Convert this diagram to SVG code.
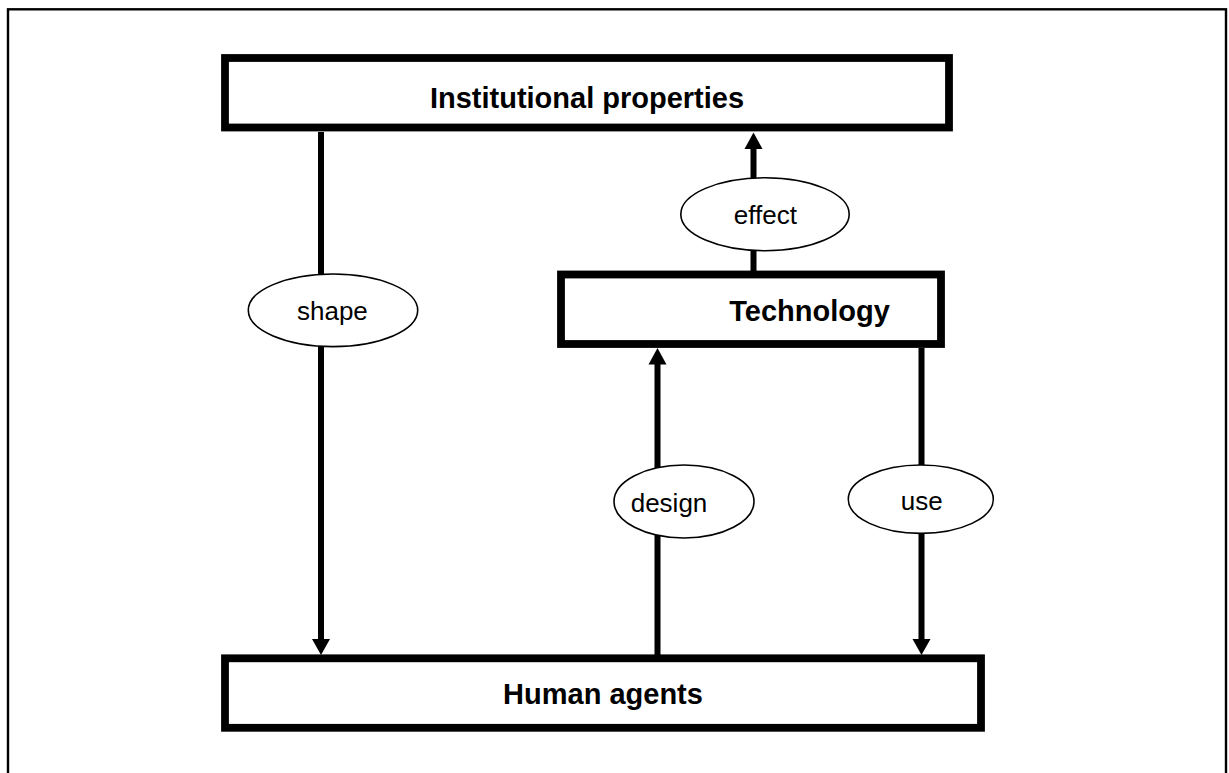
<svg xmlns="http://www.w3.org/2000/svg" width="1229" height="773" viewBox="0 0 1229 773">
<style>
.box{fill:#fff;stroke:#000;stroke-width:7.8}
.lbl{fill:#fff;stroke:#000;stroke-width:1.6}
.bt{font-family:"Liberation Sans",Arial,sans-serif;font-weight:bold;font-size:29px;text-anchor:middle;fill:#000}
.lt{font-family:"Liberation Sans",Arial,sans-serif;font-size:26px;text-anchor:middle;fill:#000}
.ln{stroke:#000;stroke-width:6;fill:none}
.ah{fill:#000}
</style>
<rect x="0" y="0" width="1229" height="773" fill="#fff"/>
<rect id="frame" x="8" y="9.3" width="1218" height="800" fill="none" stroke="#000" stroke-width="2.4"/>
<g id="connectors">
<line class="ln" x1="321" y1="132" x2="321" y2="642"/>
<polygon class="ah" points="312,639 330,639 321,655"/>
<line class="ln" x1="753.5" y1="271" x2="753.5" y2="146"/>
<polygon class="ah" points="744.5,149 762.5,149 753.5,132.5"/>
<line class="ln" x1="657.5" y1="655" x2="657.5" y2="362"/>
<polygon class="ah" points="648.5,364.5 666.5,364.5 657.5,348"/>
<line class="ln" x1="921.5" y1="348" x2="921.5" y2="642"/>
<polygon class="ah" points="912.5,639 930.5,639 921.5,655"/>
</g>
<g id="institutional">
<rect class="box" x="225" y="58" width="724" height="69.5"/>
<text class="bt" x="587" y="108">Institutional properties</text>
</g>
<g id="technology">
<rect class="box" x="561" y="274.5" width="380" height="69.5"/>
<text class="bt" x="809.5" y="321">Technology</text>
</g>
<g id="human">
<rect class="box" x="225" y="658.3" width="756" height="69.5"/>
<text class="bt" x="603" y="704">Human agents</text>
</g>
<g id="shape">
<ellipse class="lbl" cx="333" cy="310.3" rx="84.7" ry="36.3"/>
<text class="lt" x="332.4" y="320">shape</text>
</g>
<g id="effect">
<ellipse class="lbl" cx="765" cy="214.2" rx="84.2" ry="36.5"/>
<text class="lt" x="765.3" y="224">effect</text>
</g>
<g id="design">
<ellipse class="lbl" cx="684" cy="501.5" rx="70" ry="36.5"/>
<text class="lt" x="669" y="511.5">design</text>
</g>
<g id="use">
<ellipse class="lbl" cx="920.8" cy="499.2" rx="72.5" ry="34.2"/>
<text class="lt" x="921.7" y="509.5">use</text>
</g>
</svg>
